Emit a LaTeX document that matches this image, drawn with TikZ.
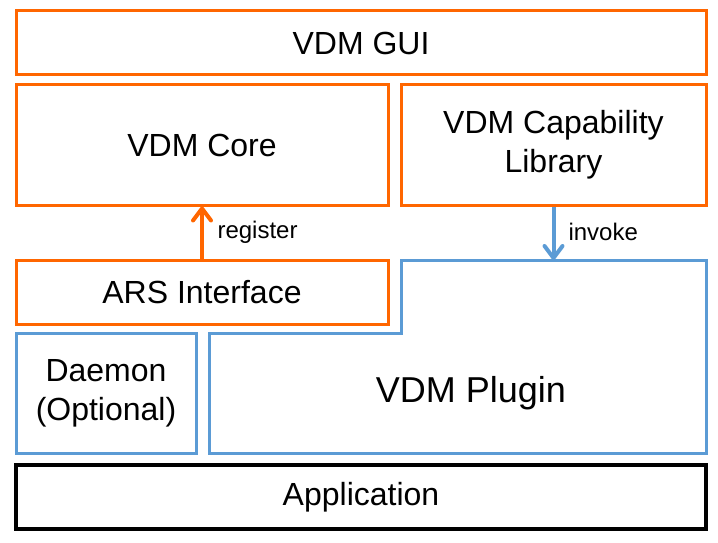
\documentclass[tikz,border=0pt]{standalone}
\usepackage{fontspec}
\setmainfont{Liberation Sans}
\usetikzlibrary{positioning,arrows.meta}
\definecolor{vdmorange}{RGB}{255,102,0}
\definecolor{vdmblue}{RGB}{91,155,213}

\begin{document}
\begin{tikzpicture}[x=1pt,y=-1pt,
    box/.style={draw,line width=3pt,inner sep=0pt,align=center,text=black,
        font=\fontsize{32}{39}\selectfont},
    orangebox/.style={box,draw=vdmorange},
    bluebox/.style={box,draw=vdmblue},
    lbl/.style={anchor=west,text=black,font=\fontsize{24}{28}\selectfont},
    arr/.style={line width=4pt,-{Straight Barb[length=12pt,width=18pt,round]}}]
    \useasboundingbox (0,0) rectangle (718,543);
    \node[orangebox,minimum width=690pt,minimum height=64pt] (gui) at (361,43) {VDM GUI};
    \node[orangebox,minimum width=372pt,minimum height=120pt] (core) at (202,145) {VDM Core};
    \node[orangebox,minimum width=305pt,minimum height=120pt] (cap) at (553.5,145)
        {VDM Capability\\Library};
    \node[orangebox,minimum width=372pt,minimum height=64pt] (ars) at (202,292) {ARS Interface};
    \node[bluebox,minimum width=180pt,minimum height=120pt] (daemon) at (106,393)
        {Daemon\\(Optional)};
    \draw[vdmblue,line width=3pt] (401,260) -- (706,260) -- (706,453) -- (209,453)
        -- (209,333) -- (401,333) -- cycle;
    \coordinate (plugtop) at (553.5,260);
    \node[text=black,font=\fontsize{36}{42}\selectfont] (plugin) at (471,393) {VDM Plugin};
    \node[box,line width=4pt,minimum width=690pt,minimum height=64pt] (app) at (361,497)
        {Application};
    \draw[arr,vdmorange] (ars.north) -- (core.south);
    \node[lbl] (reglbl) at (214,232) {register};
    \draw[arr,vdmblue] (cap.south) -- (plugtop);
    \node[lbl] (invlbl) at (565,232) {invoke};
\end{tikzpicture}
\end{document}
